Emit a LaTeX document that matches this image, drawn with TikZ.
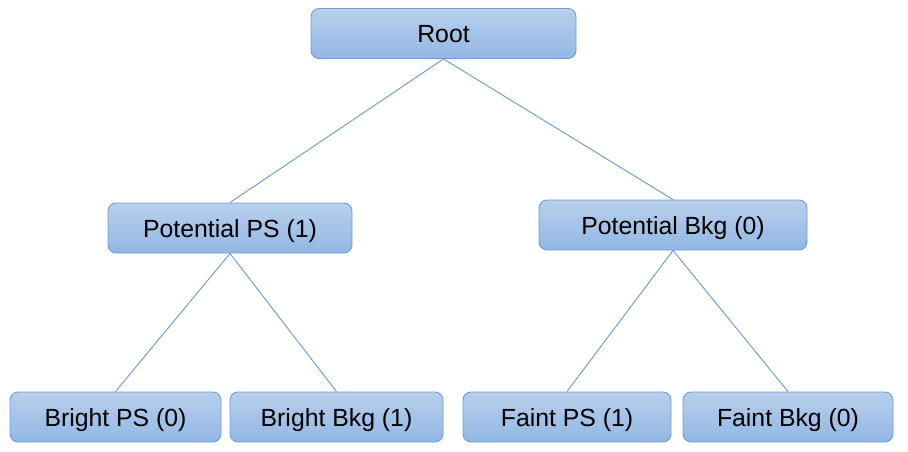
\documentclass[tikz,border=0pt]{standalone}
\usepackage{fontspec}
\setmainfont{Liberation Sans}
\usepackage{xcolor}
\usepackage{tikz}
\usetikzlibrary{positioning, calc}
\definecolor{cTop}{RGB}{184,207,236}
\definecolor{cBot}{RGB}{146,183,228}
\definecolor{cEdge}{RGB}{108,158,214}
\definecolor{cLink}{RGB}{98,152,214}
\tikzset{
	treebox/.style ={rectangle, rounded corners=8pt, draw=cEdge, line width=0.9pt, top color=cTop, bottom color=cBot, minimum height=50pt, align=center, inner sep=0pt, text height=19pt, text depth=1pt},
	treelink/.style={draw=cLink, line width=0.9pt},
}

\begin{document}
\begin{tikzpicture}[x=1pt, y=-1pt, every node/.style={font=\fontsize{24.8}{28}\selectfont}]
	\useasboundingbox (0,0) rectangle (908,452);
	\node[treebox, minimum width=265pt] (root) at (443.5,33.5) {Root};
	\node[treebox, minimum width=244pt] (pps) at (230,228) {Potential PS (1)};
	\node[treebox, minimum width=268pt] (pbkg) at (673,225) {Potential Bkg (0)};
	\node[treebox, minimum width=211pt] (bps) at (115.5,417) {Bright PS (0)};
	\node[treebox, minimum width=213pt] (bbkg) at (336.5,417) {Bright Bkg (1)};
	\node[treebox, minimum width=208pt] (fps) at (567,417) {Faint PS (1)};
	\node[treebox, minimum width=210pt] (fbkg) at (788,417) {Faint Bkg (0)};
	\draw[treelink] (root.south) -- (pps.north);
	\draw[treelink] (root.south) -- (pbkg.north);
	\draw[treelink] (pps.south) -- (bps.north);
	\draw[treelink] (pps.south) -- (bbkg.north);
	\draw[treelink] (pbkg.south) -- (fps.north);
	\draw[treelink] (pbkg.south) -- (fbkg.north);
\end{tikzpicture}
\end{document}
